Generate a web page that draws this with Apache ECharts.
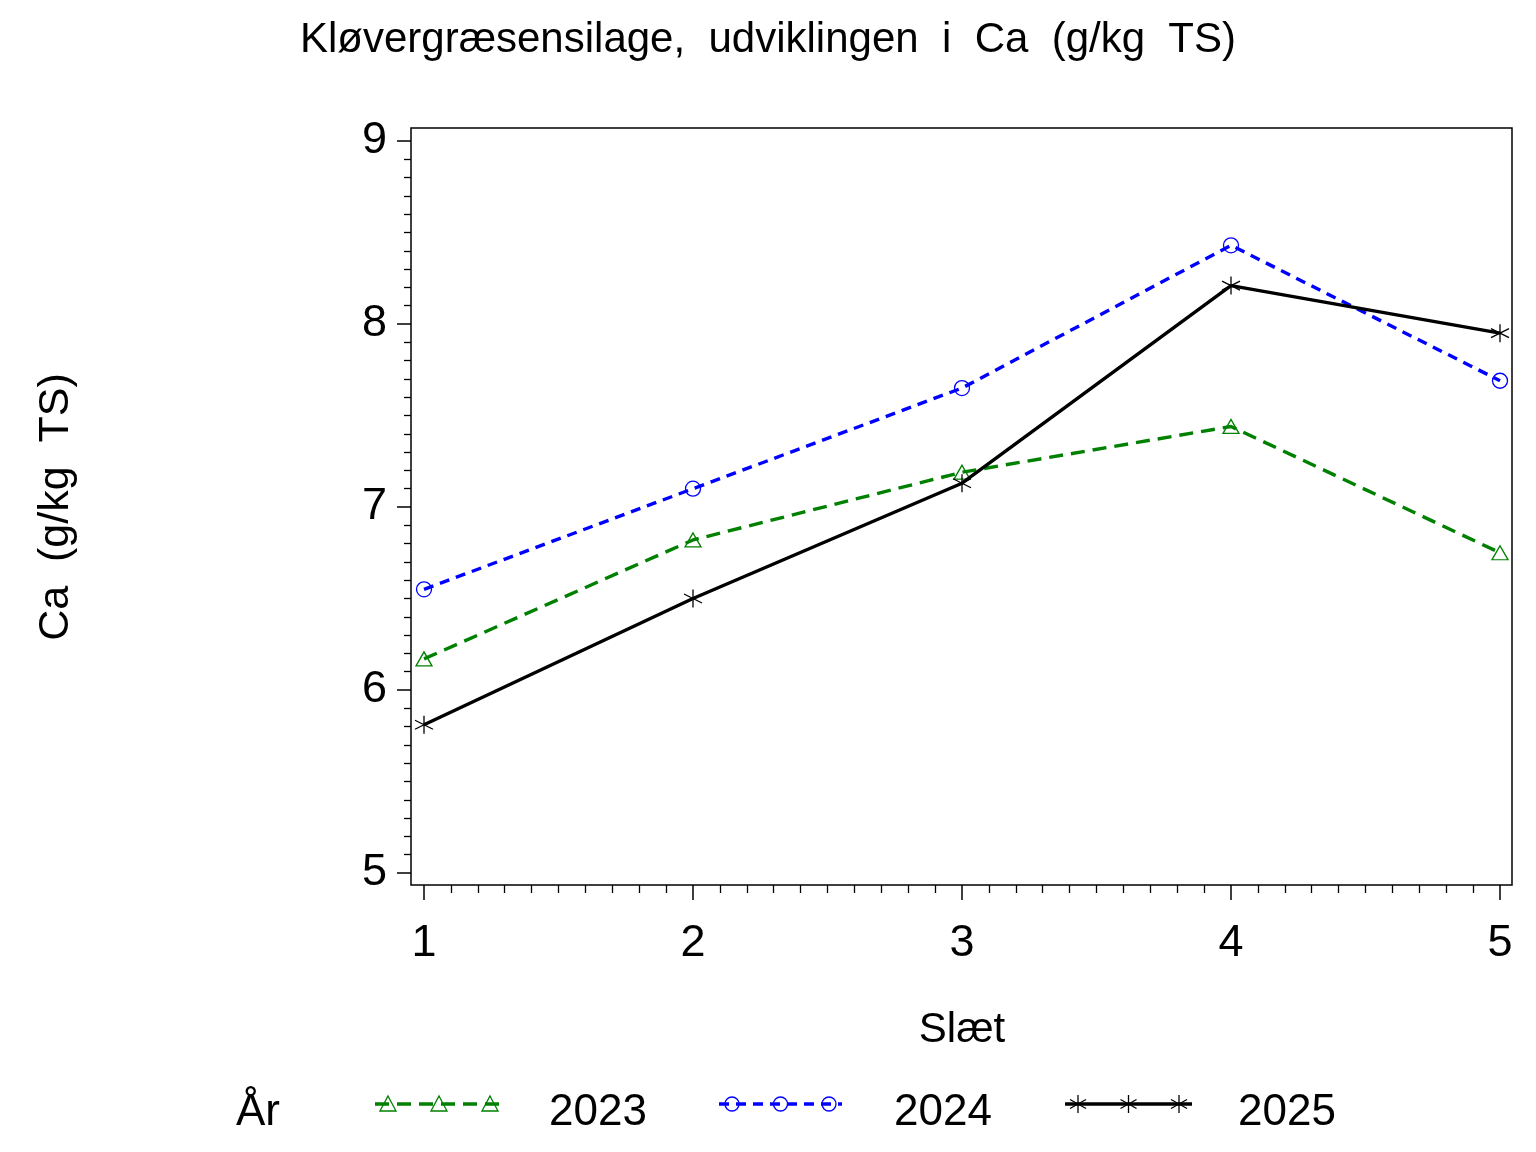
<!DOCTYPE html>
<html>
<head>
<meta charset="utf-8">
<script src="https://cdn.jsdelivr.net/npm/echarts@6/dist/echarts.min.js"></script>
<style>html,body{margin:0;padding:0;background:#fff}#c{width:1536px;height:1152px}</style>
</head>
<body>
<div id="c"></div>
<script>
const slaet = [1, 2, 3, 4, 5];
const years = ['2023', '2024', '2025'];
const ca2023 = [6.17, 6.82, 7.19, 7.44, 6.75];
const ca2024 = [6.55, 7.10, 7.65, 8.43, 7.69];
const ca2025 = [5.81, 6.50, 7.13, 8.21, 7.95];
const titleText = 'Kløvergræsensilage,  udviklingen  i  Ca  (g/kg  TS)';
const yName = 'Ca  (g/kg  TS)';
const xName = 'Slæt';
const legendTitle = 'År';

const FONT = 'Liberation Sans, Arial, sans-serif';
const FS = 42;
const TFS = 45;
const LFS = 44;
const STAR = 'path://M0,-10L0,10M-8.66,-5L8.66,5M-8.66,5L8.66,-5';
const colors = ['#008000', '#0000ff', '#000000'];
const symbols = ['triangle', 'circle', STAR];
const symSizes = [[16, 14], 15, [18, 18]];
const dashes = [[14, 8], [10, 7], 'solid'];
const seriesData = [ca2023, ca2024, ca2025];

const chart = echarts.init(document.getElementById('c'), null, {renderer: 'canvas'});

const series = seriesData.map((vals, i) => ({
  name: years[i],
  type: 'line',
  xAxisIndex: 0, yAxisIndex: 0,
  data: slaet.map((s, k) => [s, vals[k]]),
  symbol: symbols[i],
  symbolSize: symSizes[i],
  showAllSymbol: true,
  lineStyle: {color: colors[i], width: 3.4, type: dashes[i]},
  itemStyle: {color: 'rgba(0,0,0,0)', borderColor: colors[i], borderWidth: 1.3},
  emphasis: {disabled: true},
  z: 3 + i
}));

// legend drawn with graphics (line with three symbols, as in the original)
const legendItems = [
  {x0: 375, x1: 503, tx: 549},
  {x0: 719, x1: 842, tx: 894},
  {x0: 1065, x1: 1192, tx: 1238}
];
const LY = 1104;
const graphics = [{
  type: 'text', left: 236, top: 1091,
  style: {text: legendTitle, font: LFS + 'px ' + FONT, fill: '#000'}
}];
legendItems.forEach((it, i) => {
  graphics.push({
    type: 'line',
    shape: {x1: it.x0, y1: LY, x2: it.x1, y2: LY},
    style: {stroke: colors[i], lineWidth: 3.4, lineDash: dashes[i] === 'solid' ? null : dashes[i]}
  });
  const xs = [it.x0 + 13, (it.x0 + it.x1) / 2, it.x1 - 13];
  xs.forEach(cx => {
    if (i === 0) {
      graphics.push({type: 'polygon', shape: {points: [[cx, LY - 8], [cx + 8, LY + 7], [cx - 8, LY + 7]]},
        style: {fill: 'none', stroke: colors[i], lineWidth: 1.3}});
    } else if (i === 1) {
      graphics.push({type: 'circle', shape: {cx: cx, cy: LY, r: 7},
        style: {fill: 'none', stroke: colors[i], lineWidth: 1.3}});
    } else {
      graphics.push({type: 'polyline', shape: {points: [[cx, LY - 9], [cx, LY + 9]]}, style: {stroke: '#000', lineWidth: 1.3}});
      graphics.push({type: 'polyline', shape: {points: [[cx - 8, LY - 4.5], [cx + 8, LY + 4.5]]}, style: {stroke: '#000', lineWidth: 1.3}});
      graphics.push({type: 'polyline', shape: {points: [[cx - 8, LY + 4.5], [cx + 8, LY - 4.5]]}, style: {stroke: '#000', lineWidth: 1.3}});
    }
  });
  graphics.push({
    type: 'text', left: it.tx, top: 1091,
    style: {text: years[i], font: LFS + 'px ' + FONT, fill: '#000'}
  });
});

chart.setOption({
  animation: false,
  backgroundColor: '#fff',
  title: {
    text: titleText, left: 'center', top: 14,
    textStyle: {fontFamily: FONT, fontSize: 42, fontWeight: 'normal', color: '#000'}
  },
  grid: [
    {left: 424, right: 36, top: 141, bottom: 279, containLabel: false},
    {left: 411, right: 24, top: 128, bottom: 267, show: true, borderColor: '#000', borderWidth: 1.5, backgroundColor: 'transparent', z: 1}
  ],
  xAxis: [
    {
      type: 'value', gridIndex: 0, min: 1, max: 5, interval: 1, offset: 12,
      name: xName, nameLocation: 'middle', nameGap: 124,
      nameTextStyle: {fontFamily: FONT, fontSize: FS, color: '#000'},
      axisLine: {show: false},
      axisTick: {show: true, inside: false, length: 15, lineStyle: {color: '#000', width: 1.5}},
      minorTick: {show: true, splitNumber: 10, length: 8, lineStyle: {color: '#000', width: 1.3}},
      splitLine: {show: false},
      axisLabel: {fontFamily: FONT, fontSize: TFS, color: '#000', margin: 36}
    },
    {type: 'value', gridIndex: 1, show: false}
  ],
  yAxis: [
    {
      type: 'value', gridIndex: 0, min: 5, max: 9, interval: 1, offset: 13,
      name: yName, nameLocation: 'middle', nameGap: 333, nameRotate: 90,
      nameTextStyle: {fontFamily: FONT, fontSize: 43, color: '#000'},
      axisLine: {show: false},
      axisTick: {show: true, inside: false, length: 14, lineStyle: {color: '#000', width: 1.5}},
      minorTick: {show: true, splitNumber: 10, length: 7, lineStyle: {color: '#000', width: 1.3}},
      splitLine: {show: false},
      axisLabel: {fontFamily: FONT, fontSize: TFS, color: '#000', margin: 24, padding: [16, 0, 0, 0]}
    },
    {type: 'value', gridIndex: 1, show: false}
  ],
  series: series,
  graphic: graphics
});
</script>
</body>
</html>
